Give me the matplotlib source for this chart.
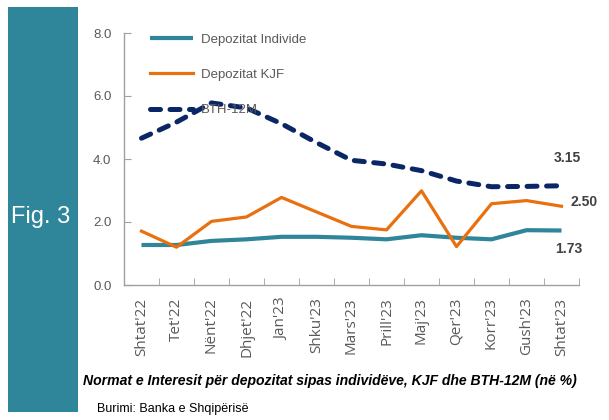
import matplotlib
matplotlib.use("Agg")
import matplotlib.pyplot as plt
from matplotlib import font_manager as fm
from matplotlib.patches import Rectangle

names = {f.name for f in fm.fontManager.ttflist}
NARROW = "Liberation Sans Narrow" if "Liberation Sans Narrow" in names else "Liberation Sans"

categories = ["Shtat'22", "Tet'22", "Nënt'22", "Dhjet'22", "Jan'23", "Shku'23", "Mars'23",
              "Prill'23", "Maj'23", "Qer'23", "Korr'23", "Gush'23", "Shtat'23"]
individe = [1.27, 1.27, 1.40, 1.45, 1.53, 1.53, 1.50, 1.45, 1.58, 1.50, 1.45, 1.74, 1.73]
kjf = [1.71, 1.20, 2.02, 2.16, 2.78, 2.32, 1.86, 1.75, 2.99, 1.22, 2.58, 2.68, 2.50]
bth = [4.66, 5.17, 5.78, 5.62, 5.12, 4.52, 3.96, 3.84, 3.63, 3.30, 3.12, 3.13, 3.15]
yticks = [0.0, 2.0, 4.0, 6.0, 8.0]

TEAL = "#2f8599"
ORANGE = "#e8700f"
NAVY = "#0b2665"
GRAY = "#595959"

fig = plt.figure(figsize=(6.09, 4.2), dpi=100)
fig.patches.append(Rectangle((8/609, 1-412/420), 70/609, 405/420, transform=fig.transFigure,
                             facecolor=TEAL, edgecolor="none", zorder=0))
fig.text(41/609, 1-217/420, "Fig. 3", color="white", fontsize=17, family=NARROW,
         ha="center", va="center")

ax = fig.add_axes([124/609, 1-285/420, 455/609, 252/420])
x = list(range(len(categories)))
ax.plot(x, individe, color=TEAL, lw=3.0, label="Depozitat Individe", solid_capstyle="butt")
ax.plot(x, kjf, color=ORANGE, lw=2.3, label="Depozitat KJF")
ax.plot(x, bth, color=NAVY, lw=3.6, ls=(0, (2.0, 1.9)), dash_capstyle="round", label="BTH-12M")

ax.set_xlim(-0.5, len(categories) - 0.5)
ax.set_ylim(0, 8)
ax.set_yticks(yticks)
ax.set_yticklabels([f"{v:.1f}" for v in yticks], family=NARROW, fontsize=9.5, color=GRAY)
ax.set_xticks(x)
ax.set_xticklabels(categories, rotation=90, fontsize=11, color=GRAY, family="Open Sans")
ax.set_xticks([i + 0.5 for i in range(-1, len(categories))], minor=True)
ax.tick_params(axis="x", which="major", length=0, pad=9)
ax.tick_params(axis="x", which="minor", direction="in", length=5, color="#a0a0a0")
ax.tick_params(axis="y", direction="in", length=5, color="#a0a0a0", pad=9)
for s in ["top", "right"]:
    ax.spines[s].set_visible(False)
for s in ["left", "bottom"]:
    ax.spines[s].set_color("#a0a0a0")
    ax.spines[s].set_linewidth(1.0)

n = len(categories) - 1
ax.annotate(f"{bth[-1]:.2f}", (n, bth[-1]), xytext=(4, 20), textcoords="offset points",
            fontsize=10, fontweight="bold", color="#404040", family=NARROW, ha="center", va="center")
ax.annotate(f"{kjf[-1]:.2f}", (n, kjf[-1]), xytext=(16, 3), textcoords="offset points",
            fontsize=10, fontweight="bold", color="#404040", family=NARROW, ha="center", va="center")
ax.annotate(f"{individe[-1]:.2f}", (n, individe[-1]), xytext=(5, -13), textcoords="offset points",
            fontsize=10, fontweight="bold", color="#404040", family=NARROW, ha="center", va="center")

leg = ax.legend(loc="upper left", bbox_to_anchor=(0.03, 1.045), frameon=False,
                prop={"family": NARROW, "size": 9.5}, labelspacing=1.75, handlelength=3.3,
                handletextpad=0.6)
for t in leg.get_texts():
    t.set_color(GRAY)

fig.text(83/609, 1-381/420, "Normat e Interesit për depozitat sipas individëve, KJF dhe BTH-12M (në %)",
         fontsize=10.1, fontweight="bold", style="italic", family=NARROW, color="black",
         ha="left", va="center")
fig.text(97/609, 1-409/420, "Burimi: Banka e Shqipërisë", fontsize=9.0, family=NARROW,
         color="black", ha="left", va="center")

fig.savefig("out.png", dpi=100)
